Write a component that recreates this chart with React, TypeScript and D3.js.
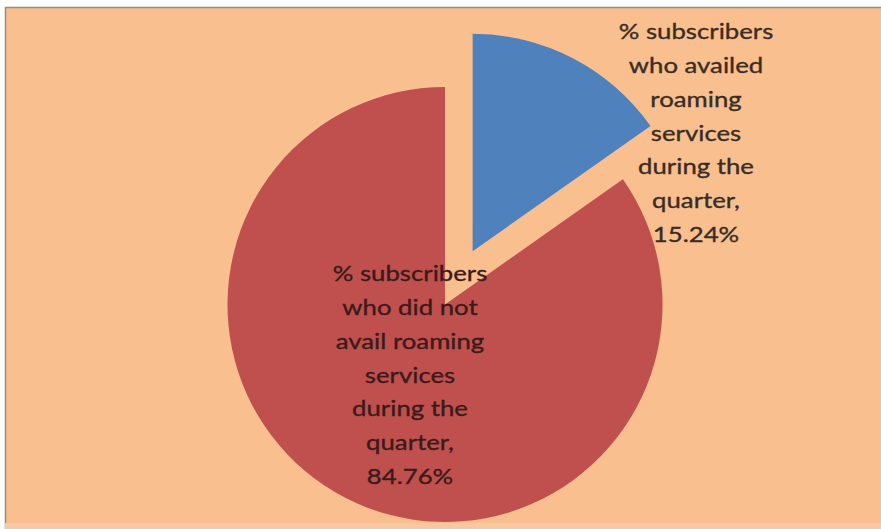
import React from "react";
import * as d3 from "d3";

const categories = [
  "% subscribers who availed roaming services during the quarter",
  "% subscribers who did not avail roaming services during the quarter",
];
const values = [15.24, 84.76];
const labelLines = [
  ["% subscribers", "who availed", "roaming", "services", "during the", "quarter,", "15.24%"],
  ["% subscribers", "who did not", "avail roaming", "services", "during the", "quarter,", "84.76%"],
];
const colors = ["#4F81BD", "#C0504D"];

const W = 881;
const H = 529;

export default function App() {
  const cx = 445;
  const cy = 304.5;
  const r = 217.5;
  const explode = 60;
  const pie = d3.pie<number>().sort(null).value((d) => d);
  const arcs = pie(values);
  const arcGen = d3.arc<d3.PieArcDatum<number>>().innerRadius(0).outerRadius(r);
  const labelPos = [
    { x: 696, y: 30 },
    { x: 410, y: 272 },
  ];
  const lh = 33.8;
  return (
    <div style={{ position: "absolute", left: 0, top: 0 }}>
      <svg width={W} height={H} style={{ display: "block" }}>
        <rect x={0} y={0} width={W} height={H} fill="#ffffff" />
        <rect x={5} y={7} width={W - 5} height={H - 7} fill="#F9BF8F" />
        <line x1={5.5} y1={7} x2={5.5} y2={H} stroke="#9a8a7a" strokeWidth={1.5} />
        <line x1={5} y1={7.5} x2={W} y2={7.5} stroke="#9a8a7a" strokeWidth={1.5} />
        <rect x={5} y={523} width={W - 5} height={6} fill="#F6C9A2" />
        {arcs.map((a, i) => {
          const mid = (a.startAngle + a.endAngle) / 2;
          const off = i === 0 ? explode : 0;
          const dx = Math.sin(mid) * off;
          const dy = -Math.cos(mid) * off;
          return (
            <path
              key={i}
              d={arcGen(a) || ""}
              transform={`translate(${cx + dx},${cy + dy})`}
              fill={colors[i]}
            />
          );
        })}
        {labelLines.map((lines, i) => (
          <g key={i} transform={`translate(${labelPos[i].x},${labelPos[i].y}) scale(1.17,1)`}>
            <text
              x={0}
              y={0}
              textAnchor="middle"
              dominantBaseline="central"
              fontFamily="Lato, 'Open Sans', sans-serif"
              fontSize={22}
              fill={i === 0 ? "#3a2c24" : "#3a1a1a"}
              stroke={i === 0 ? "#3a2c24" : "#3a1a1a"}
              strokeWidth={0.35}
            >
              {lines.map((l, j) => (
                <tspan key={j} x={0} y={j * lh}>
                  {l}
                </tspan>
              ))}
            </text>
          </g>
        ))}
      </svg>
    </div>
  );
}
